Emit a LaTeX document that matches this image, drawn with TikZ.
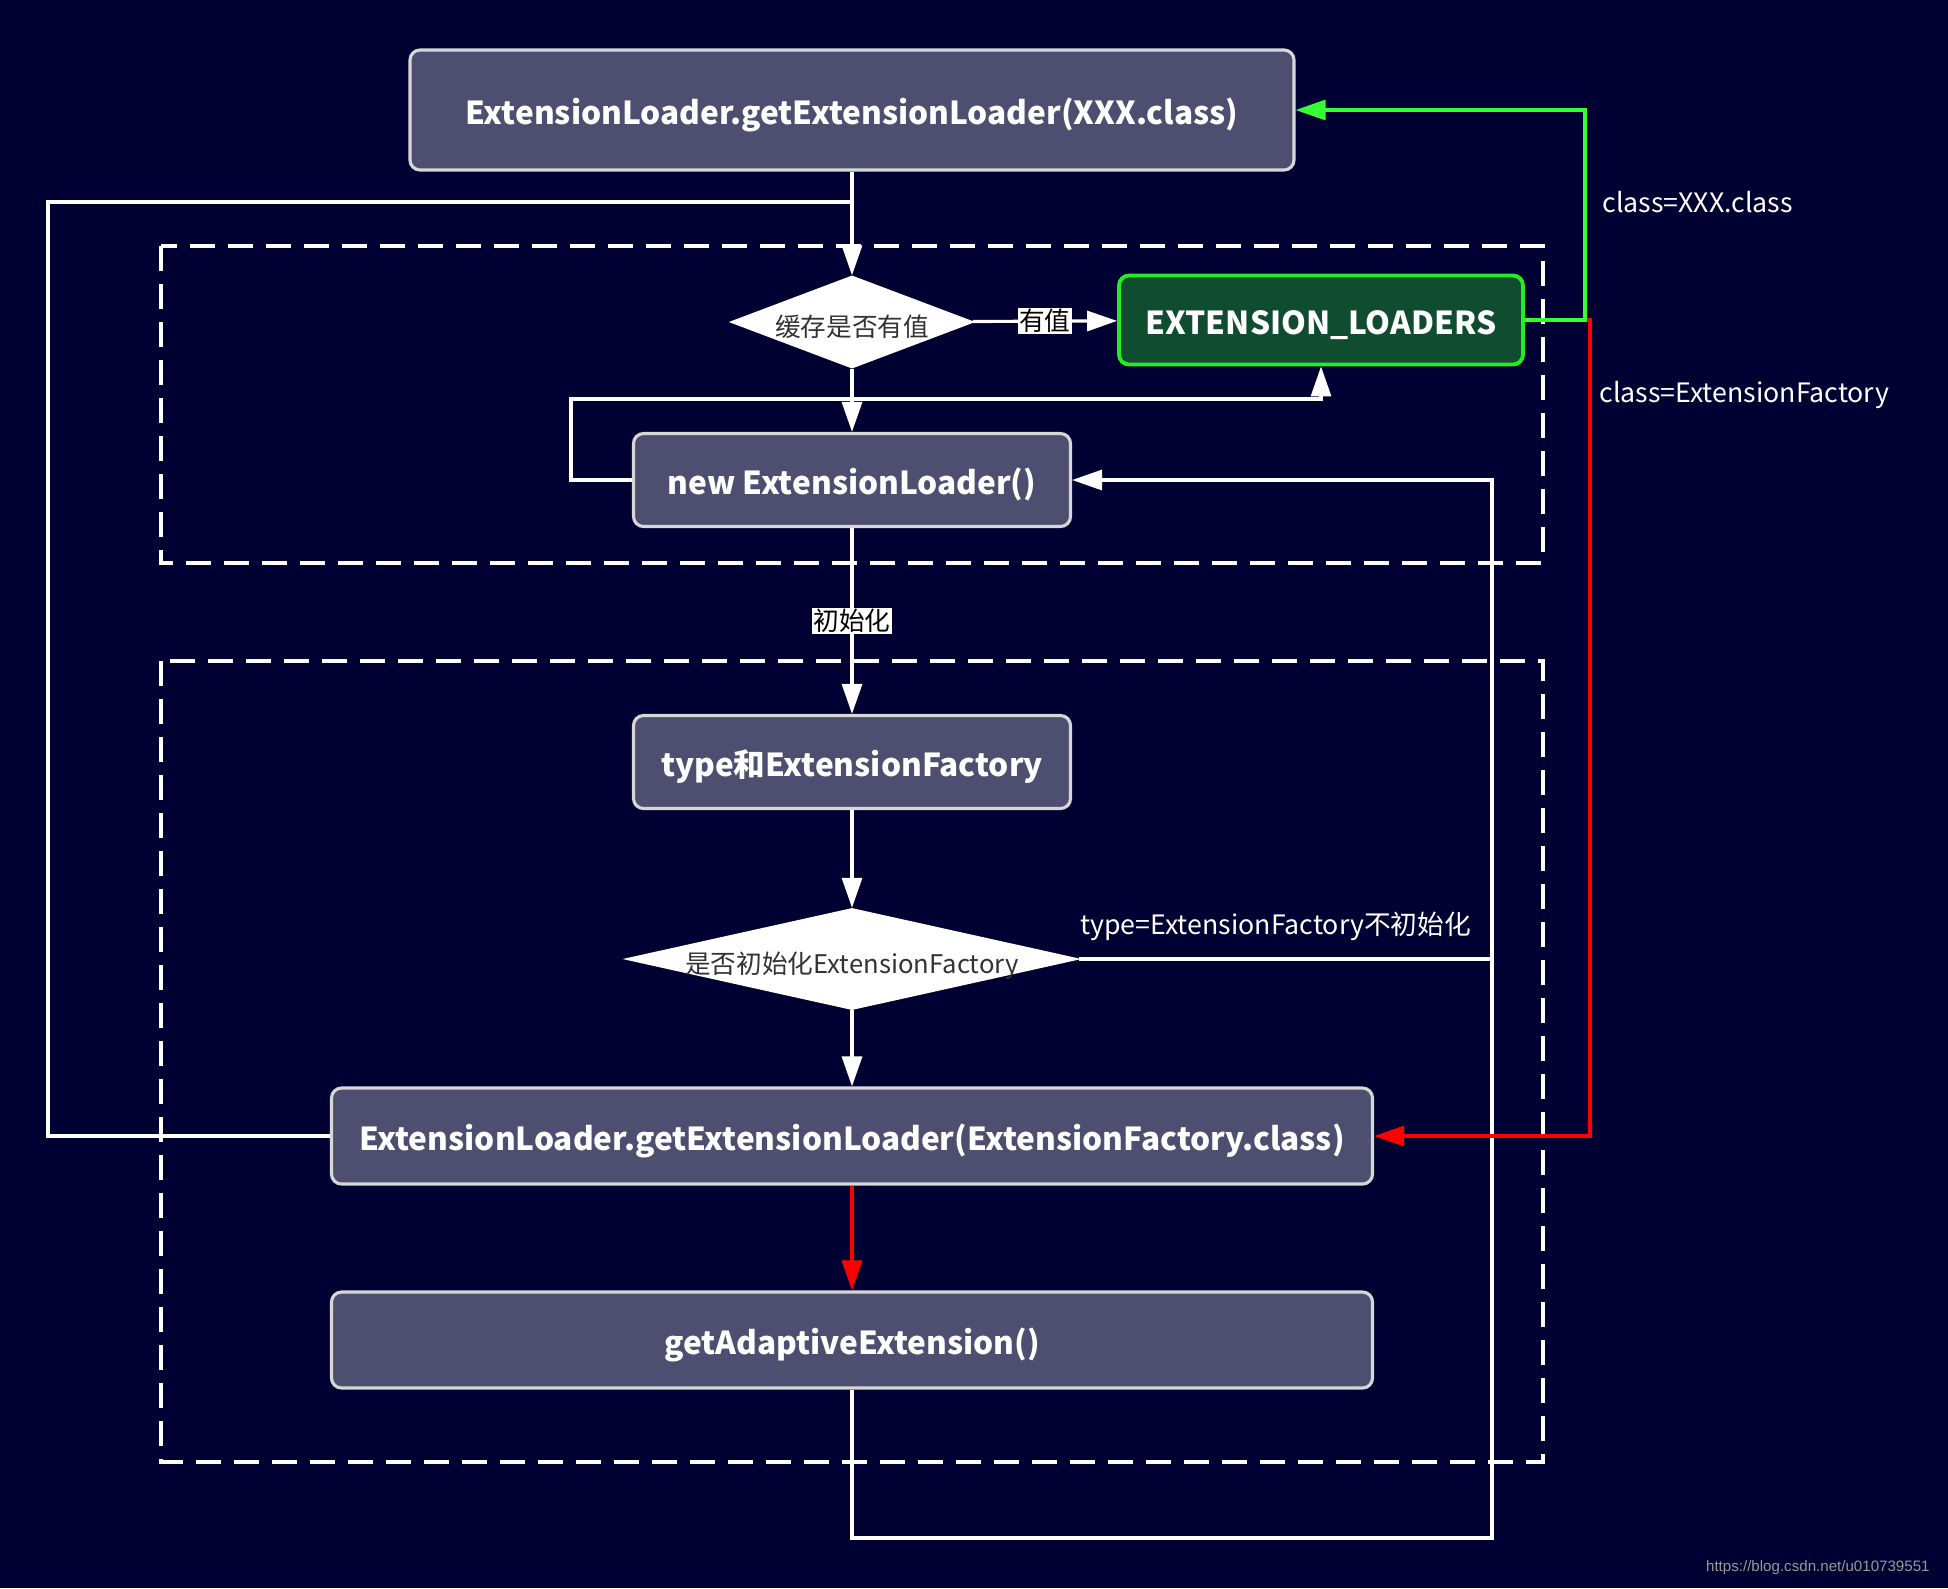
\documentclass[tikz,border=0pt]{standalone}
\usepackage{fontspec}
\setmainfont{Noto Sans CJK SC}
\newfontfamily\urlfont{Liberation Sans}
\usetikzlibrary{shapes.geometric,arrows.meta}
\definecolor{bg}{RGB}{0,0,50}
\definecolor{boxfill}{RGB}{78,78,112}
\definecolor{boxline}{RGB}{215,215,215}
\definecolor{extfill}{RGB}{16,77,48}
\definecolor{extline}{RGB}{34,238,34}
\definecolor{xgreen}{RGB}{51,255,51}
\definecolor{xred}{RGB}{255,0,0}
\definecolor{darktext}{RGB}{51,51,51}
\begin{document}
\begin{tikzpicture}[x=0.1mm, y=-0.1mm,
    box/.style={draw=boxline, fill=boxfill, line width=0.9pt, rounded corners=1mm,
      text=white, text height=0.85em, text depth=0pt, font=\fontsize{9}{11}\selectfont\bfseries},
    dia/.style={diamond, draw=white, fill=white, inner sep=0pt, text=darktext,
      text height=0.85em, text depth=0pt, font=\fontsize{7.3}{8}\selectfont},
    line/.style={white, line width=0.9pt},
    arr/.style={line, -{Triangle[length=3mm, width=2mm]}},
    lbl/.style={fill=white, text=black, inner sep=0.4pt, font=\fontsize{7.3}{8}\selectfont},
    note/.style={text=white, font=\fontsize{7.6}{9}\selectfont},
    frame/.style={white, line width=0.9pt, dash pattern=on 2.5mm off 1.3mm}]
    \fill[bg] (0,0) rectangle (1948,1588);
    \draw[frame] (161,246) rectangle (1543,563);
    \draw[frame] (161,661) rectangle (1543,1462);

    \node[box, minimum width=88.4mm, minimum height=12mm] (top) at (852,110) {ExtensionLoader.getExtensionLoader(XXX.class)};
    \node[dia, aspect=2.64, minimum width=24.3mm, minimum height=9.2mm] (d1) at (852,322) {缓存是否有值};
    \node[box, fill=extfill, draw=extline, line width=1.1pt, minimum width=40.4mm, minimum height=8.9mm] (ext) at (1321,320) {EXTENSION\_LOADERS};
    \node[box, minimum width=43.7mm, minimum height=9.3mm] (new) at (852,480) {new ExtensionLoader()};
    \node[box, minimum width=43.7mm, minimum height=9.3mm] (type) at (852,762) {type和ExtensionFactory};
    \node[dia, aspect=4.49, inner xsep=-3pt, minimum width=45.3mm, minimum height=10.1mm] (d2) at (852,959) {是否初始化ExtensionFactory};
    \node[box, minimum width=104.1mm, minimum height=9.6mm] (ef) at (852,1136) {ExtensionLoader.getExtensionLoader(ExtensionFactory.class)};
    \node[box, minimum width=104.1mm, minimum height=9.6mm] (ada) at (852,1340) {getAdaptiveExtension()};

    \coordinate (j1) at (852,202);
    \coordinate (j2) at (1321,399);
    \coordinate (r) at (1492,1538);

    \draw[arr] (top) -- (d1);
    \draw[line] (ef.west) -- ++(-282,0) |- (j1);
    \draw[arr] (d1) -- (ext) node[lbl, pos=0.5] {有值};
    \draw[arr] (d1) -- (new);
    \draw[arr] (new.west) -- ++(-61,0) |- (j2) -- (ext.south);
    \draw[arr] (new) -- (type) node[lbl, pos=0.5] {初始化};
    \draw[arr] (type) -- (d2);
    \draw[arr] (d2) -- (ef);
    \draw[line] (d2.east) -- (d2.east -| r) node[note, midway, above, xshift=-1mm, yshift=0.5mm] {type=ExtensionFactory不初始化};
    \draw[arr] (ada) |- (r) |- (new.east);
    \draw[arr, xred] (ef) -- (ada);
    \draw[arr, xred] (ext.east) -- ++(65,0) |- (ef.east);
    \draw[arr, xgreen] (ext.east) -- ++(60,0) |- (top.east);

    \node[note, anchor=west] (c1) at (1590,202) {class=XXX.class};
    \node[note, anchor=west] (c2) at (1587,395) {class=ExtensionFactory};
    \node[anchor=east, text=gray!80, font=\urlfont\fontsize{4.3}{5}\selectfont] (wm) at (1942,1568) {https://blog.csdn.net/u010739551};
\end{tikzpicture}
\end{document}
